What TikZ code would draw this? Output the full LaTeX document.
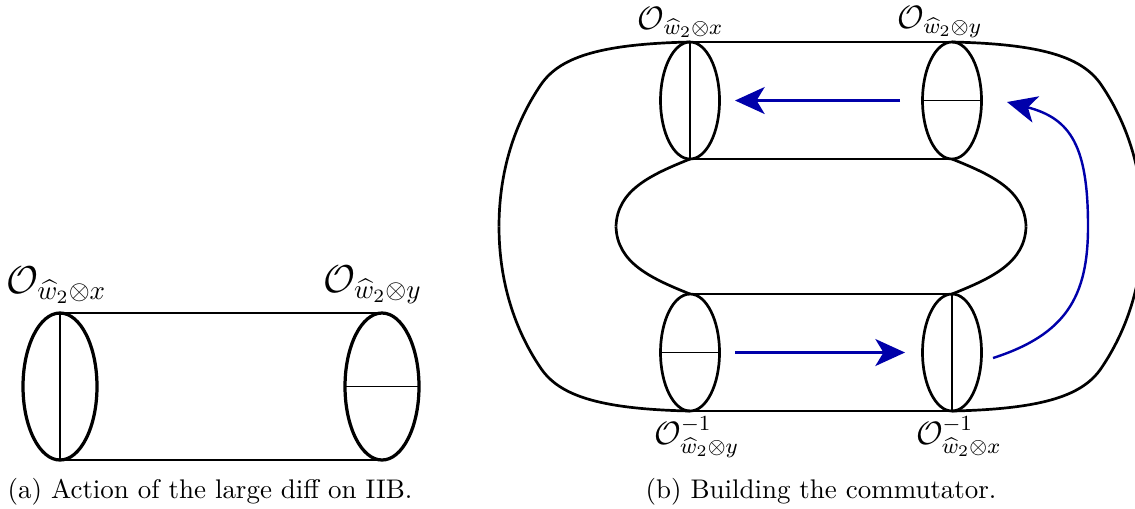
\documentclass[tikz,border=0pt]{standalone}
\usepackage{amsmath}
\usepackage{amssymb}
\usepackage{tikz}
\usetikzlibrary{arrows.meta}
\definecolor{arrowblue}{RGB}{0,0,170}
\newcommand{\wx}{\widehat{w}_2\otimes x}
\newcommand{\wy}{\widehat{w}_2\otimes y}

\begin{document}
\begin{tikzpicture}[x=0.371pt,y=-0.371pt,
        surf/.style={line width=1pt},
        cut/.style={line width=0.55pt},
        move/.style={arrowblue, line width=0.9pt, -{Stealth[length=11pt,width=10pt,inset=3pt]}}]
    \useasboundingbox (0,0) rectangle (1135,508);
    % (a) the cylinder
    \coordinate (A) at (60,386.5); \coordinate (B) at (382,386.5);
    \coordinate (A1) at (60,313); \coordinate (A2) at (60,460);
    \coordinate (B1) at (382,313); \coordinate (B2) at (382,460);
    \draw[surf] (A1) -- (B1); \draw[surf] (A2) -- (B2);
    \foreach \p in {A,B}
        \draw[line width=1.2pt] (\p) ellipse [x radius=37, y radius=73.5];
    \draw[cut] (A1) -- (A2);
    \draw[cut] (345,386.5) -- (419,386.5);
    \node (labA) [above, font=\Large, xshift=-1.3pt] at (A1) {$\mathcal{O}_{\wx}$};
    \node (labB) [above, font=\Large, xshift=-3.5pt] at (B1) {$\mathcal{O}_{\wy}$};
    \node (capA) at (210,492) {(a) Action of the large diff on IIB.};
    % (b) the genus two surface
    \begin{scope}[shift={(821,226.5)}]
        \coordinate (Tx) at (-131,-126); \coordinate (Ty) at (131,-126);
        \coordinate (By) at (-131,126); \coordinate (Bx) at (131,126);
        \draw[surf] (-131,-184.5) -- (131,-184.5);
        \draw[surf] (-131,-67.5) -- (131,-67.5);
        \draw[surf] (-131,67.5) -- (131,67.5);
        \draw[surf] (-131,184.5) -- (131,184.5);
        \foreach \sx in {1,-1}
            \foreach \sy in {1,-1} {
                \begin{scope}[xscale=\sx, yscale=\sy]
                    \draw[surf] (-131,-184.5) .. controls (-225,-182.5) and (-262,-168) .. (-280,-142)
                        .. controls (-310,-98) and (-322,-48) .. (-322,0);
                    \draw[surf] (-131,-67.5) .. controls (-171,-51.5) and (-204,-36) .. (-205,0);
                \end{scope}
            }
        \foreach \p in {Tx,Ty,By,Bx}
            \draw[surf] (\p) ellipse [x radius=29.5, y radius=58.5];
        \draw[cut] (-131,-184.5) -- (-131,-67.5);
        \draw[cut] (101.5,-126) -- (160.5,-126);
        \draw[cut] (-160.5,126) -- (-101.5,126);
        \draw[cut] (131,67.5) -- (131,184.5);
        \node (labTx) [above, font=\large, inner sep=1.5pt, xshift=-3.5pt] at (-131,-184.5) {$\mathcal{O}_{\wx}$};
        \node (labTy) [above, font=\large, inner sep=1.5pt, xshift=-4.5pt] at (131,-184.5) {$\mathcal{O}_{\wy}$};
        \node (labBy) [below, font=\large, inner sep=2pt, xshift=2.5pt] at (-131,184.5) {$\mathcal{O}^{-1}_{\wy}$};
        \node (labBx) [below, font=\large, inner sep=2pt, xshift=2.5pt] at (131,184.5) {$\mathcal{O}^{-1}_{\wx}$};
        % the moves
        \coordinate (m1) at (79,-126); \coordinate (m2) at (-86,-126);
        \coordinate (n1) at (-86,126); \coordinate (n2) at (84,126);
        \coordinate (k1) at (172,131.5); \coordinate (k2) at (186,-124.5);
        \draw[move] (m1) -- (m2);
        \draw[move] (n1) -- (n2);
        \draw[move] (k1) .. controls (245,108) and (267,70) .. (267,0)
            .. controls (267,-80) and (250,-108) .. (k2);
        \node (capB) at (0,265.5) {(b) Building the commutator.};
    \end{scope}
\end{tikzpicture}
\end{document}
